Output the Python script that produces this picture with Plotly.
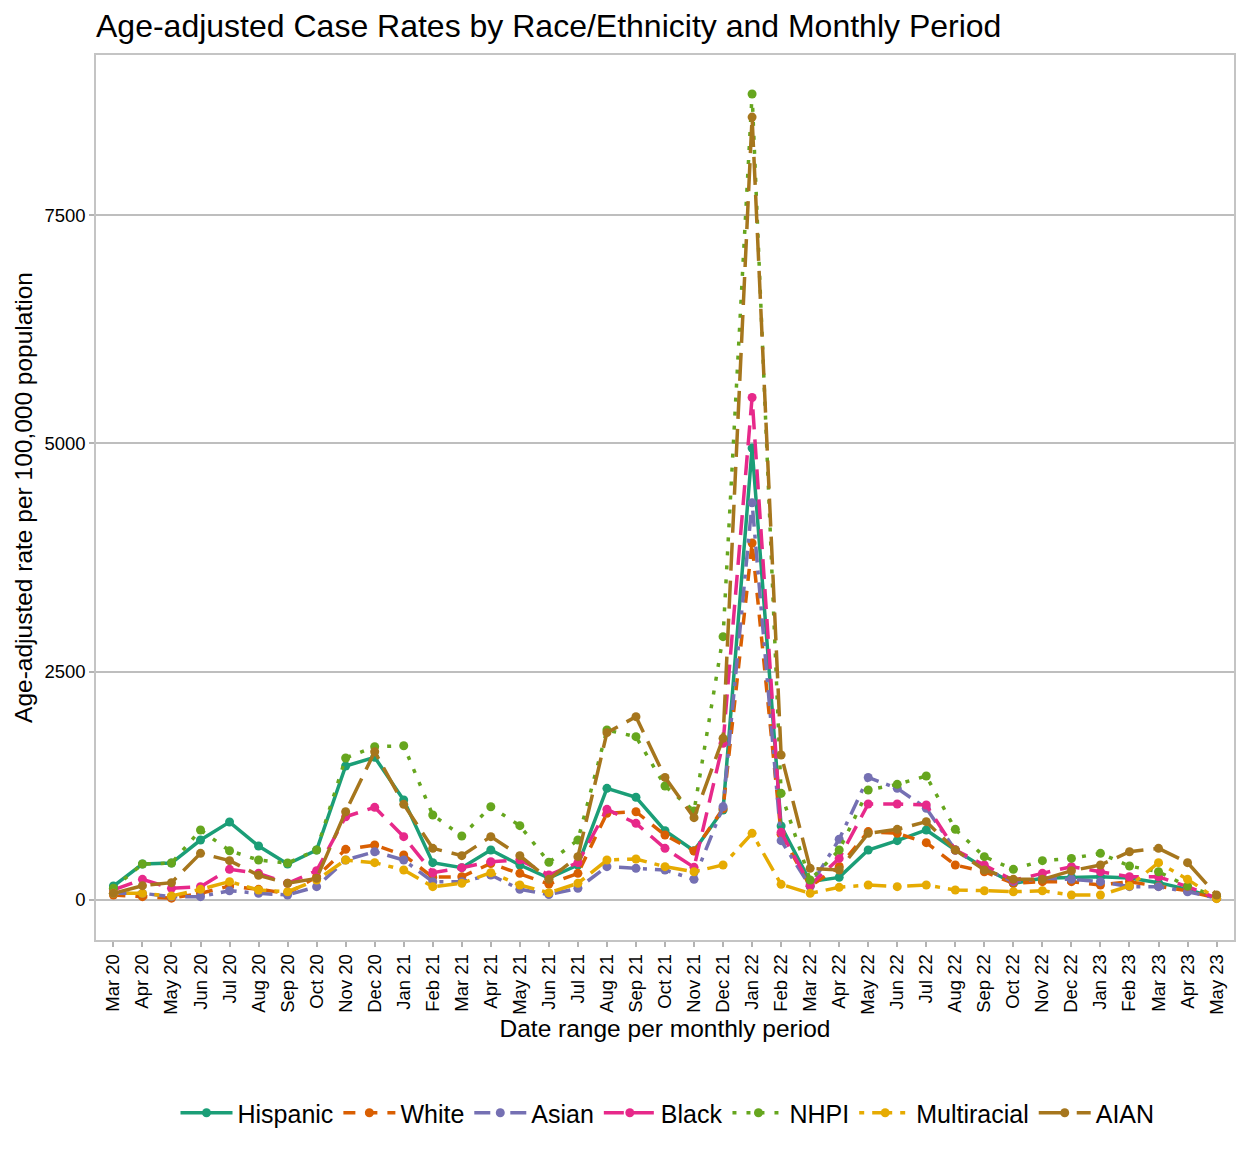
import plotly.graph_objects as go

months = ["Mar 20", "Apr 20", "May 20", "Jun 20", "Jul 20", "Aug 20", "Sep 20", "Oct 20", "Nov 20", "Dec 20",
          "Jan 21", "Feb 21", "Mar 21", "Apr 21", "May 21", "Jun 21", "Jul 21", "Aug 21", "Sep 21", "Oct 21",
          "Nov 21", "Dec 21", "Jan 22", "Feb 22", "Mar 22", "Apr 22", "May 22", "Jun 22", "Jul 22", "Aug 22",
          "Sep 22", "Oct 22", "Nov 22", "Dec 22", "Jan 23", "Feb 23", "Mar 23", "Apr 23", "May 23"]

hispanic = [153, 394, 405, 657, 854, 591, 394, 548, 1468, 1563, 1095, 409, 354, 548, 383, 240, 383, 1223, 1125, 759,
            540, 986, 4950, 810, 201, 248, 548, 650, 767, 548, 350, 183, 237, 248, 255, 241, 190, 117, 20]
white = [55, 37, 20, 73, 153, 117, 73, 255, 555, 602, 493, 250, 255, 400, 292, 175, 292, 949, 967, 712,
         537, 1000, 3910, 720, 150, 365, 749, 730, 628, 383, 310, 183, 201, 201, 164, 200, 150, 100, 20]
asian = [73, 73, 37, 37, 102, 73, 55, 146, 438, 529, 438, 201, 201, 274, 117, 60, 128, 365, 347, 329,
         226, 1022, 4350, 650, 150, 665, 1343, 1223, 1004, 548, 340, 201, 237, 226, 201, 146, 146, 91, 20]
black = [110, 226, 128, 146, 336, 292, 183, 321, 912, 1015, 694, 299, 354, 420, 440, 274, 409, 993, 840, 566,
         358, 1716, 5504, 741, 164, 456, 1051, 1051, 1040, 548, 383, 215, 292, 365, 310, 255, 255, 146, 20]
nhpi = [130, 394, 405, 767, 540, 438, 405, 548, 1555, 1679, 1690, 931, 701, 1022, 814, 413, 657, 1862, 1789, 1249,
        975, 2884, 8828, 1168, 219, 548, 1205, 1267, 1358, 774, 475, 336, 431, 456, 511, 372, 310, 150, 40]
multiracial = [73, 73, 44, 117, 201, 110, 91, 219, 438, 409, 329, 146, 183, 299, 164, 80, 183, 438, 449, 365,
               310, 383, 730, 172, 73, 139, 164, 146, 164, 110, 102, 91, 102, 55, 55, 153, 409, 226, 15]
aian = [73, 157, 190, 511, 431, 270, 183, 237, 967, 1624, 1048, 566, 486, 694, 486, 226, 475, 1833, 2008, 1343,
        902, 1771, 8575, 1588, 347, 329, 730, 774, 858, 548, 329, 226, 226, 321, 383, 529, 566, 409, 55]

series_names = ["Hispanic", "White", "Asian", "Black", "NHPI", "Multiracial", "AIAN"]
series_values = [hispanic, white, asian, black, nhpi, multiracial, aian]
colors = ["#1B9E77", "#D95F02", "#7570B3", "#E7298A", "#66A61E", "#E6AB02", "#A6761D"]
dashes = ["solid", "12px,10px", "16px,8px,4px,8px", "20px,10px", "4px,10px", "5px,8px,20px,8px", "28px,10px"]

y_ticks = [0, 2500, 5000, 7500]

FONT = "Liberation Sans, Arial, sans-serif"
W, H = 1239, 1149

fig = go.Figure()
for name, vals, col, dash in zip(series_names, series_values, colors, dashes):
    fig.add_trace(go.Scatter(
        x=months, y=vals, name=name, mode="lines+markers",
        line=dict(color=col, width=3.5, dash=dash),
        marker=dict(color=col, size=9),
    ))

fig.update_layout(
    width=W, height=H,
    margin=dict(l=88, r=11, t=47, b=217),
    plot_bgcolor="white", paper_bgcolor="white",
    font=dict(family=FONT, color="black"),
    title=dict(text="Age-adjusted Case Rates by Race/Ethnicity and Monthly Period",
               font=dict(size=32, color="black", family=FONT),
               x=88 / W, xref="container", xanchor="left",
               y=1 - 18 / H, yref="container", yanchor="middle"),
    showlegend=True,
    legend=dict(orientation="h", x=0.5 + 40 / W, xanchor="center", xref="container",
                y=1 - 1105 / H, yref="container", yanchor="middle",
                font=dict(size=25, family=FONT, color="black"),
                itemwidth=52, traceorder="normal"),
)

fig.update_xaxes(
    type="category", categoryorder="array", categoryarray=months,
    range=[-0.6, len(months) - 0.4],
    tickangle=-90, tickfont=dict(size=18.5, color="black"),
    ticks="outside", ticklen=5, tickcolor="#B3B3B3", tickwidth=1.5,
    showgrid=False, showline=True, mirror=True, linecolor="#C4C4C4", linewidth=1.5,
    title=dict(text="Date range per monthly period", font=dict(size=24.5, color="black"), standoff=6),
)
fig.update_yaxes(
    range=[-438, 9255], tickvals=y_ticks, ticktext=[str(v) for v in y_ticks],
    tickfont=dict(size=18.5, color="black"),
    ticks="outside", ticklen=5, tickcolor="#B3B3B3", tickwidth=1.5,
    showgrid=True, gridcolor="#BEBEBE", gridwidth=1.5, zeroline=False,
    showline=True, mirror=True, linecolor="#C4C4C4", linewidth=1.5,
    title=dict(text="Age-adjusted rate per 100,000 population", font=dict(size=24.5, color="black"), standoff=5),
)

fig.write_html("out.html")
